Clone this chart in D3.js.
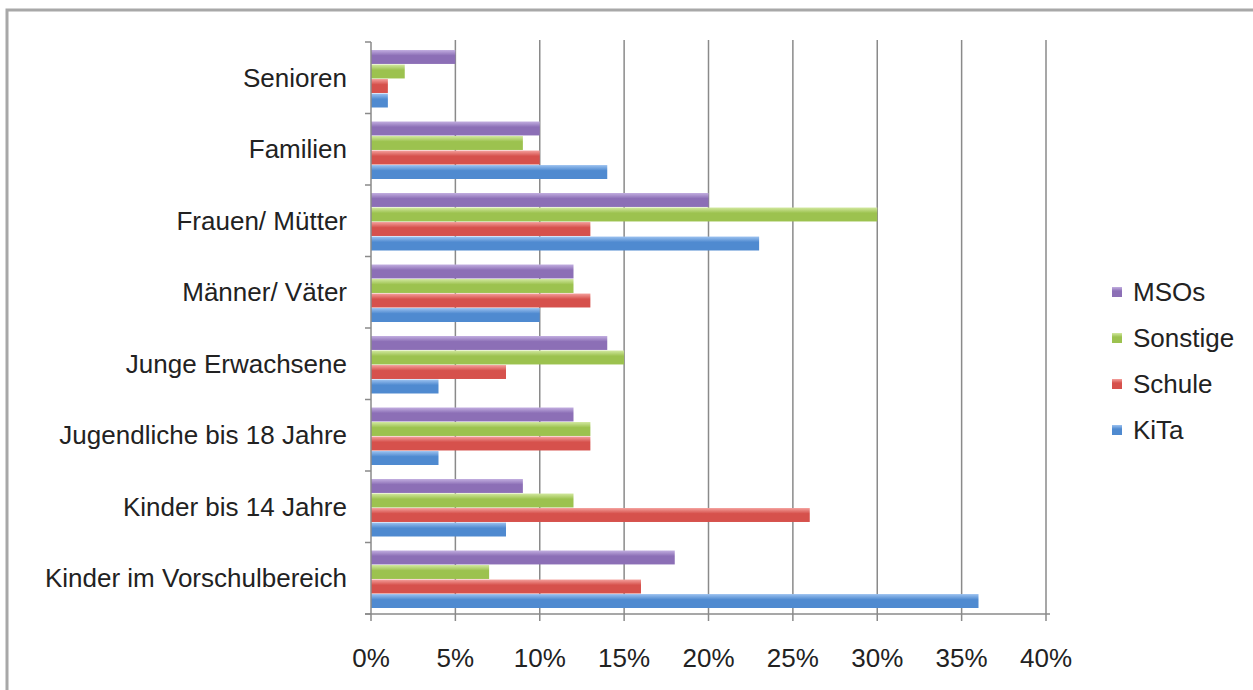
<!DOCTYPE html>
<meta charset="utf-8">
<script src="https://cdn.jsdelivr.net/npm/d3@7"></script>
<style>
  body { margin: 0; background: #fff; }
  text { font-family: "Liberation Sans", Arial, sans-serif; fill: #222; }
</style>
<body>
<script>

var categories = ["Senioren", "Familien", "Frauen/ Mütter", "Männer/ Väter", "Junge Erwachsene",
                  "Jugendliche bis 18 Jahre", "Kinder bis 14 Jahre", "Kinder im Vorschulbereich"]
var seriesNames = ["MSOs", "Sonstige", "Schule", "KiTa"]
var msos     = [5, 10, 20, 12, 14, 12, 9, 18]
var sonstige = [2, 9, 30, 12, 15, 13, 12, 7]
var schule   = [1, 10, 13, 13, 8, 13, 26, 16]
var kita     = [1, 14, 23, 10, 4, 4, 8, 36]
var xTicks = [0, 5, 10, 15, 20, 25, 30, 35, 40]

var colors = { "MSOs": ["#c2aee0", "#8c6fb6"], "Sonstige": ["#d2e8a0", "#9cc24f"],
               "Schule": ["#f4a09c", "#d6514c"], "KiTa": ["#9cc2f0", "#4f8ad0"] }

var values = { "MSOs": msos, "Sonstige": sonstige, "Schule": schule, "KiTa": kita }

var width = 1253, height = 690

var svg = d3.select("body").append("svg")
            .attr("width", width)
            .attr("height", height)

// frame (only top and left edges show in the picture)
svg.append("path")
   .attr("d", "M7," + height + "V10H" + width)
   .attr("fill", "none")
   .attr("stroke", "#a8a8a8")
   .attr("stroke-width", 3)

var defs = svg.append("defs")
seriesNames.forEach(function(s, i) {
  var g = defs.append("linearGradient").attr("id", "g" + i).attr("x1", 0).attr("y1", 0).attr("x2", 0).attr("y2", 1)
  g.append("stop").attr("offset", "0%").attr("stop-color", colors[s][0])
  g.append("stop").attr("offset", "40%").attr("stop-color", colors[s][1])
  g.append("stop").attr("offset", "100%").attr("stop-color", colors[s][1])
})

var x = d3.scaleLinear().domain([0, 40]).range([371, 1046])
var y = d3.scaleBand().domain(categories).range([42, 614]).paddingInner(0).paddingOuter(0)
var inner = d3.scaleBand().domain(seriesNames).range([8, y.bandwidth() - 6]).paddingInner(0.04)

// gridlines
svg.append("g").selectAll("line")
   .data(xTicks.slice(1))
   .enter().append("line")
   .attr("x1", function(d) { return x(d) }).attr("x2", function(d) { return x(d) })
   .attr("y1", 40).attr("y2", 614)
   .attr("stroke", "#8a8a8a").attr("stroke-width", 1.5)

// bars
var groups = svg.append("g").selectAll("g")
   .data(categories)
   .enter().append("g")
   .attr("transform", function(d) { return "translate(0," + y(d) + ")" })

groups.selectAll("rect")
   .data(function(c, ci) { return seriesNames.map(function(s, si) { return { s: s, si: si, v: values[s][ci] } }) })
   .enter().append("rect")
   .attr("x", x(0))
   .attr("y", function(d) { return inner(d.s) })
   .attr("width", function(d) { return x(d.v) - x(0) })
   .attr("height", inner.bandwidth())
   .attr("fill", function(d) { return "url(#g" + d.si + ")" })

// y axis
var yAxis = svg.append("g")
   .attr("transform", "translate(" + x(0) + ",0)")
yAxis.append("line").attr("x1", 0).attr("x2", 0).attr("y1", 42).attr("y2", 614)
   .attr("stroke", "#8a8a8a").attr("stroke-width", 1.5)
yAxis.selectAll(".tk")
   .data(d3.range(categories.length + 1))
   .enter().append("line")
   .attr("x1", -6).attr("x2", 0)
   .attr("y1", function(i) { return 42 + i * y.step() })
   .attr("y2", function(i) { return 42 + i * y.step() })
   .attr("stroke", "#8a8a8a").attr("stroke-width", 1.5)
yAxis.selectAll("text")
   .data(categories)
   .enter().append("text")
   .attr("x", -24)
   .attr("y", function(d) { return y(d) + y.bandwidth() / 2 })
   .attr("dy", "0.35em")
   .attr("text-anchor", "end")
   .style("font-size", "26px")
   .text(function(d) { return d })

// x axis
var xAxis = svg.append("g")
xAxis.append("line").attr("x1", x(0) - 6).attr("x2", x(40) + 4).attr("y1", 614).attr("y2", 614)
   .attr("stroke", "#8a8a8a").attr("stroke-width", 1.5)
xAxis.selectAll(".tk")
   .data(xTicks)
   .enter().append("line")
   .attr("x1", function(d) { return x(d) }).attr("x2", function(d) { return x(d) })
   .attr("y1", 614).attr("y2", 621)
   .attr("stroke", "#8a8a8a").attr("stroke-width", 1.5)
xAxis.selectAll("text")
   .data(xTicks)
   .enter().append("text")
   .attr("x", function(d) { return x(d) })
   .attr("y", 667)
   .attr("text-anchor", "middle")
   .style("font-size", "26px")
   .text(function(d) { return d + "%" })

// legend
var legend = svg.append("g").selectAll("g")
   .data(seriesNames)
   .enter().append("g")
   .attr("transform", function(d, i) { return "translate(1112," + (292 + i * 46) + ")" })
legend.append("rect")
   .attr("x", 0).attr("y", -5).attr("width", 10).attr("height", 10)
   .attr("fill", function(d, i) { return "url(#g" + i + ")" })
legend.append("text")
   .attr("x", 21).attr("dy", "0.35em")
   .style("font-size", "26px")
   .text(function(d) { return d })

</script>
</body>
